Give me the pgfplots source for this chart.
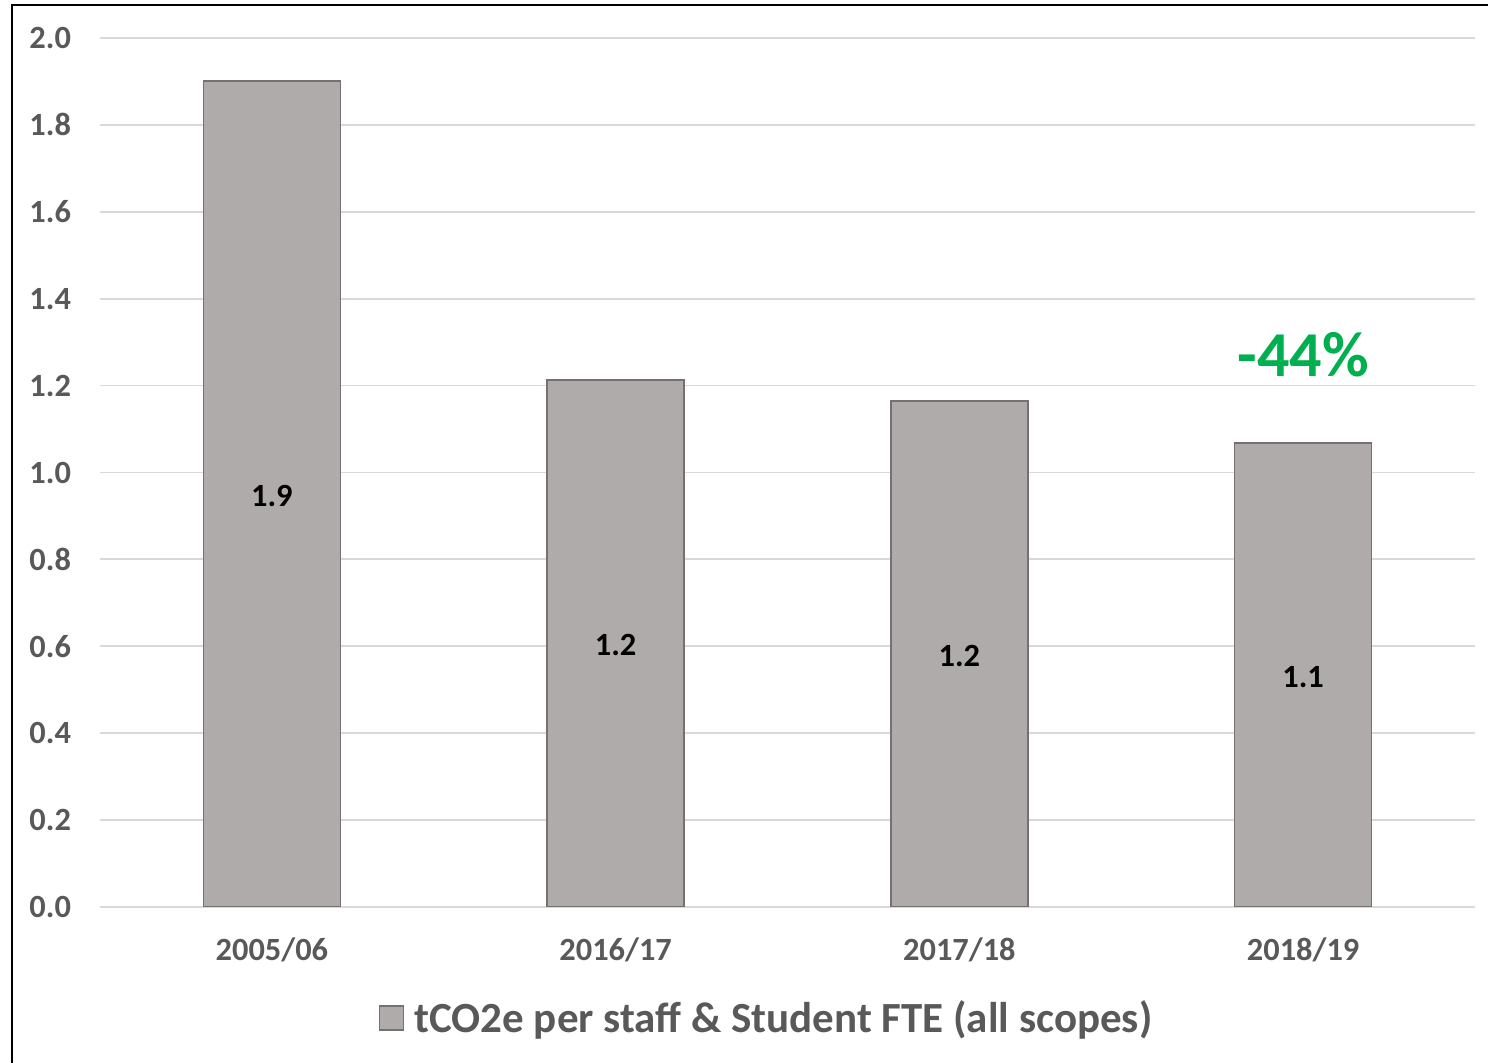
\documentclass[border=0pt]{standalone}
\usepackage{fontspec}
\setmainfont{Carlito}
\usepackage{pgfplots}
\pgfplotsset{compat=1.18}
\definecolor{barfill}{HTML}{AFABAB}
\definecolor{baredge}{HTML}{767171}
\definecolor{gridc}{HTML}{D9D9D9}
\definecolor{tickc}{HTML}{595959}
\definecolor{greenc}{HTML}{00B050}
\begin{document}
\begin{tikzpicture}
\path[use as bounding box] (0,0) rectangle (744pt,531.5pt);
\draw[line width=1pt, black] (6pt,-2pt) -- (6pt,529pt) -- (746pt,529pt);
\begin{axis}[
  at={(50pt,78pt)}, anchor=south west,
  scale only axis, width=687.5pt, height=434.5pt,
  xmin=-0.5, xmax=3.5, ymin=0, ymax=2.0,
  xtick=data, xticklabels={2005/06,2016/17,2017/18,2018/19},
  ytick={0,0.2,0.4,0.6,0.8,1.0,1.2,1.4,1.6,1.8,2.0},
  yticklabel style={/pgf/number format/fixed, /pgf/number format/fixed zerofill, /pgf/number format/precision=1, xshift=-11pt},
  /pgf/number format/assume math mode=true,
  ticklabel style={font=\bfseries\fontsize{16.2}{19}\selectfont, text=tickc},
  xticklabel style={yshift=-12pt},
  major tick length=0pt,
  axis line style={draw=none},
  ymajorgrids, grid style={gridc, line width=0.9pt},
  ybar, bar width=68.5pt,
  legend style={draw=none, fill=none, at={(0.4855,-0.1277)}, anchor=center,
    font=\bfseries\fontsize{21.5}{25}\selectfont, text=tickc},
  legend image code/.code={\draw[fill=barfill, draw=baredge, line width=0.75pt] (0pt,-6pt) rectangle (12pt,6pt); \path (15pt,0pt);},
  nodes near coords,
  point meta=y,
  nodes near coords style={/pgf/number format/fixed, /pgf/number format/fixed zerofill, /pgf/number format/precision=1},
  visualization depends on={y \as \rawy},
  every node near coord/.append style={anchor=center, font=\bfseries\fontsize{16.2}{19}\selectfont, text=black,
     shift={(axis direction cs:0,-\rawy/2)}, yshift=-1pt},
]
\addplot[fill=barfill, draw=baredge, line width=0.75pt] coordinates {(0,1.901) (1,1.213) (2,1.165) (3,1.068)};
\addlegendentry{tCO2e per staff \& Student FTE (all scopes)}
\node[text=greenc, font=\bfseries\fontsize{32}{37}\selectfont] at (axis cs:3,1.27) {-44\%};
\end{axis}
\end{tikzpicture}
\end{document}
